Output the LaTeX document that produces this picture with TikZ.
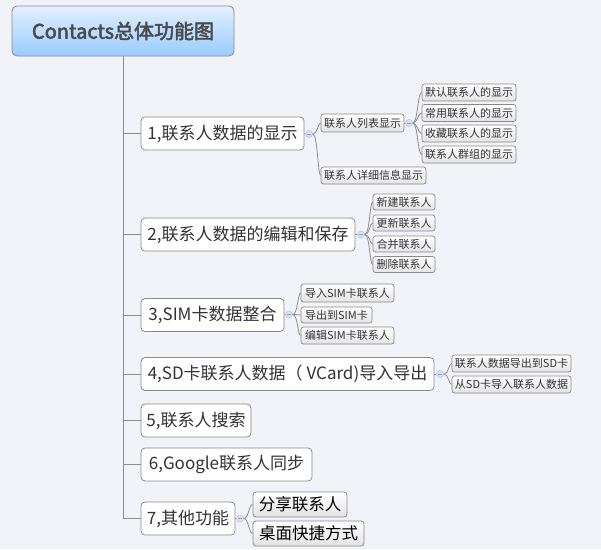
\documentclass[tikz,border=0pt]{standalone}
\usepackage{fontspec}
\setmainfont{Noto Sans CJK SC}
\newfontfamily\rootfont[FakeBold=2.5]{Noto Sans CJK SC}
\usetikzlibrary{calc}
\definecolor{bg}{HTML}{F2F3F8}
\definecolor{boxline}{HTML}{8A8A8A}
\definecolor{conn}{HTML}{8C8C8C}
\definecolor{txt}{HTML}{333333}
\definecolor{roottxt}{HTML}{4A4A4A}
\definecolor{roottop}{HTML}{E2F0FF}
\definecolor{rootbot}{HTML}{99CCFF}
\definecolor{dotfill}{HTML}{D6E4F7}
\definecolor{dotline}{HTML}{A8C0E8}
\definecolor{dotminus}{HTML}{7F9FD0}
\tikzset{
  rootbox/.style={draw=boxline, line width=0.8pt, rounded corners=5pt, top color=roottop, bottom color=rootbot,
    inner sep=0pt, minimum width=#1, minimum height=50pt, text=roottxt, font=\rootfont\fontsize{20pt}{23pt}\selectfont},
  topicbox/.style={draw=boxline, line width=0.8pt, rounded corners=4pt, fill=white,
    inner sep=0pt, minimum width=#1, minimum height=33pt, text=txt, font=\fontsize{17pt}{20pt}\selectfont},
  subbox/.style={draw=boxline, line width=0.7pt, rounded corners=2.5pt, top color=white, bottom color=black!11,
    inner sep=0pt, minimum width=#1, minimum height=17pt, text=txt, font=\fontsize{11pt}{12pt}\selectfont},
  bigsub/.style={draw=boxline, line width=0.8pt, rounded corners=3pt, top color=white, bottom color=black!11,
    inner sep=0pt, minimum width=#1, minimum height=25pt, text=black, font=\fontsize{16.5pt}{19pt}\selectfont},
  fold/.style={circle, draw=dotline, fill=dotfill, line width=0.5pt, minimum size=7pt, inner sep=0pt,
    path picture={\draw[dotminus, line width=0.6pt] ([xshift=-2pt]path picture bounding box.center) -- ([xshift=2pt]path picture bounding box.center);}},
  trunk/.style={draw=conn, line width=0.9pt},
  link/.style={draw=conn, line width=0.8pt},
}
\newcommand{\brlink}[2]{\draw[link] (#1.east) .. controls ($(#1.east)+(5,0)$) and ($(#1.east |- #2.west)+(5,0)$) .. (#2.west);}
\begin{document}
\begin{tikzpicture}[x=1pt, y=-1pt]
\useasboundingbox[fill=bg] (0,0) rectangle (601,549);

% root
\node[rootbox=222pt] (root) at (123,31) {Contacts总体功能图};

% main topics
\node[topicbox=163pt] (b1) at (222.5,133.5) {1,联系人数据的显示};
\node[topicbox=214pt] (b2) at (248,234.5) {2,联系人数据的编辑和保存};
\node[topicbox=143pt] (b3) at (212.5,315) {3,SIM卡数据整合};
\node[topicbox=293pt] (b4) at (287.5,374) {4,SD卡联系人数据（ VCard)导入导出};
\node[topicbox=110pt] (b5) at (196,420.5) {5,联系人搜索};
\node[topicbox=171pt] (b6) at (226.5,464.5) {6,Google联系人同步};
\node[topicbox=94pt] (b7) at (188,518.5) {7,其他功能};

% trunk
\draw[trunk] (root.south) |- (b7.west);
\foreach \b in {b1,b2,b3,b4,b5,b6}{
  \draw[trunk] (root.south |- \b.west) -- (\b.west);
}

% fold markers
\node[fold] (c1) at (309,134) {};
\node[fold] (c11) at (409,123) {};
\node[fold] (c2) at (361,234.5) {};
\node[fold] (c3) at (289,314.5) {};
\node[fold] (c4) at (440,374) {};
\node[fold] (c7) at (240,518.5) {};
\draw[link] (b1.east) -- (c1.west);
\draw[link] (b2.east) -- (c2.west);
\draw[link] (b3.east) -- (c3.west);
\draw[link] (b4.east) -- (c4.west);
\draw[link] (b7.east) -- (c7.west);

% level 2 of 1
\node[subbox=83pt, minimum height=18pt] (s11) at (362.5,123) {联系人列表显示};
\node[subbox=105pt] (s12) at (373.5,175.5) {联系人详细信息显示};
\draw[link] (s11.east) -- (c11.west);
\node[subbox=94pt] (t1) at (469,92.5) {默认联系人的显示};
\node[subbox=94pt] (t2) at (469,113) {常用联系人的显示};
\node[subbox=94pt] (t3) at (469,133.5) {收藏联系人的显示};
\node[subbox=94pt] (t4) at (469,154.5) {联系人群组的显示};

% level 2 of 2
\node[subbox=62pt, minimum height=16pt] (s21) at (404,202) {新建联系人};
\node[subbox=62pt, minimum height=16pt] (s22) at (404,223) {更新联系人};
\node[subbox=62pt, minimum height=16pt] (s23) at (404,244) {合并联系人};
\node[subbox=62pt, minimum height=16pt] (s24) at (404,264.5) {删除联系人};

% level 2 of 3
\node[subbox=93pt, minimum height=18pt] (s31) at (347.5,293) {导入SIM卡联系人};
\node[subbox=71pt, minimum height=16pt] (s32) at (336.5,315) {导出到SIM卡};
\node[subbox=93pt] (s33) at (347.5,335.5) {编辑SIM卡联系人};

% level 2 of 4
\node[subbox=119pt] (s41) at (511.5,363.5) {联系人数据导出到SD卡};
\node[subbox=119pt] (s42) at (511.5,384.5) {从SD卡导入联系人数据};

% level 2 of 7
\node[bigsub=94pt] (s71) at (300,504.5) {分享联系人};
\node[bigsub=111pt] (s72) at (308.5,533.5) {桌面快捷方式};

% branch links
\brlink{c1}{s11}
\brlink{c1}{s12}
\foreach \t in {t1,t2,t3,t4}{\brlink{c11}{\t}}
\foreach \t in {s21,s22,s23,s24}{\brlink{c2}{\t}}
\foreach \t in {s31,s32,s33}{\brlink{c3}{\t}}
\foreach \t in {s41,s42}{\brlink{c4}{\t}}
\foreach \t in {s71,s72}{\brlink{c7}{\t}}
\end{tikzpicture}
\end{document}
